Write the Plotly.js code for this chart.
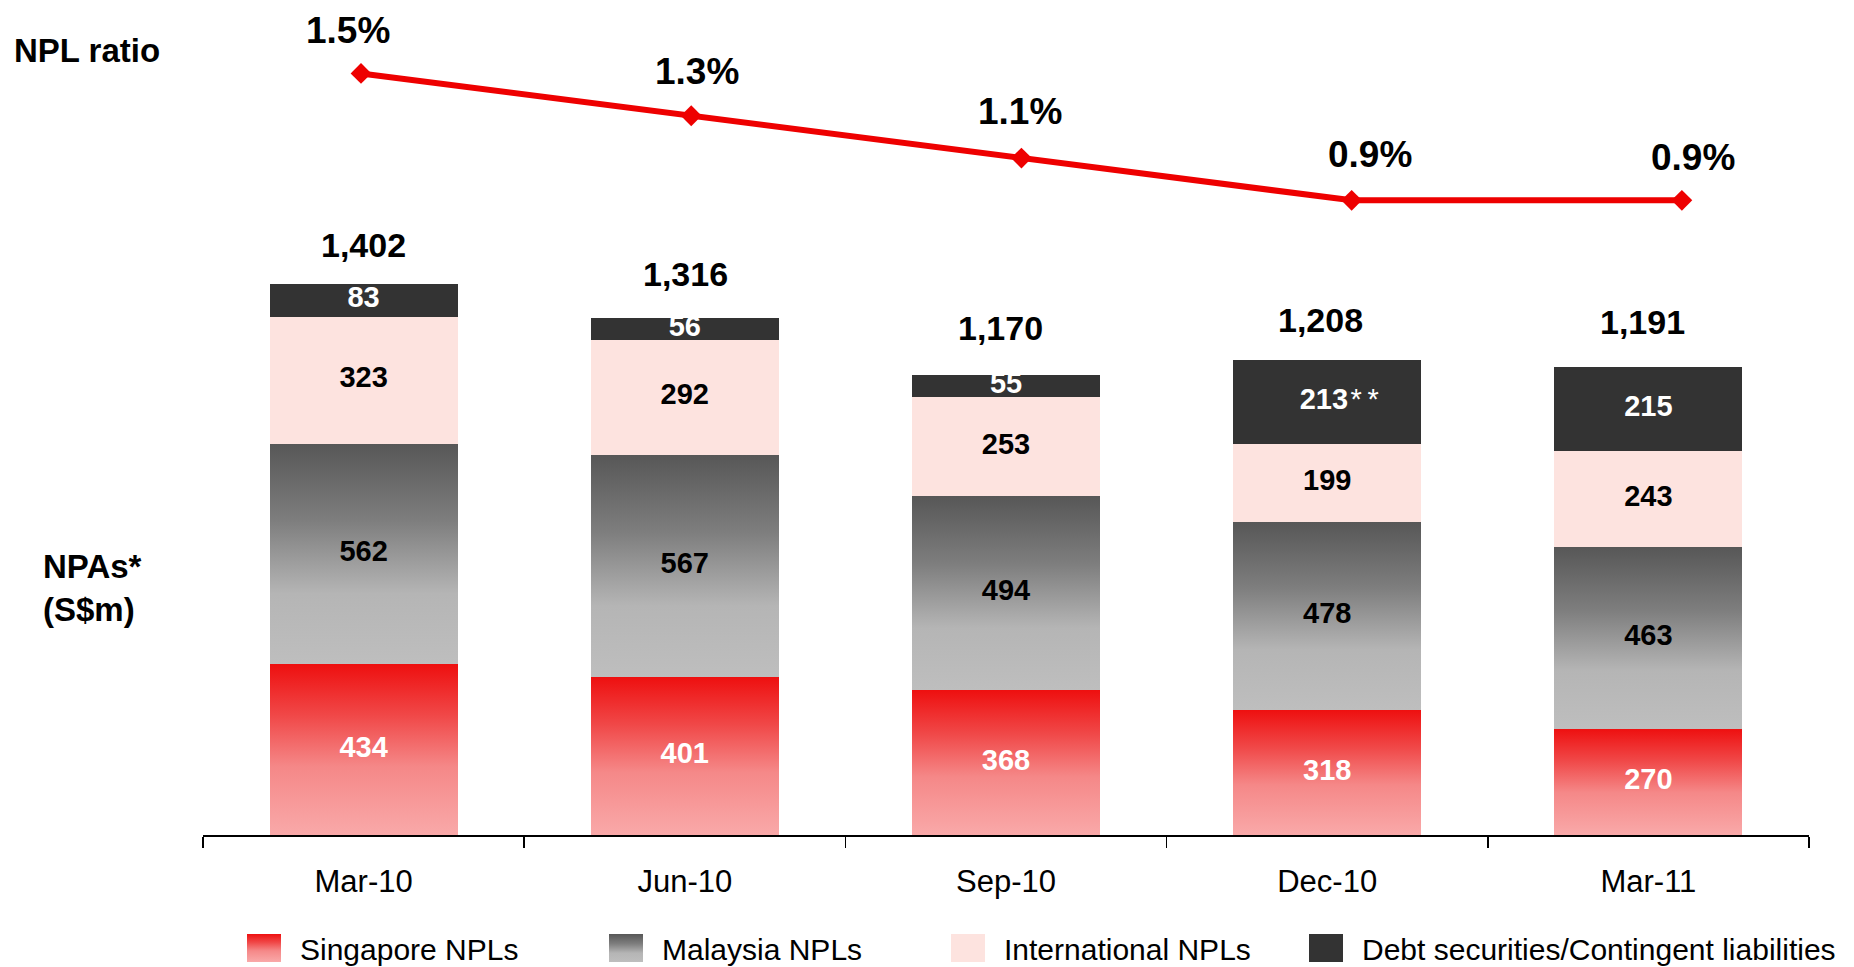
<!DOCTYPE html>
<html><head><meta charset="utf-8">
<script src="https://cdn.plot.ly/plotly-3.0.1.min.js"></script>
<style>html,body{margin:0;padding:0;background:#fff;}#chart{width:1854px;height:967px;}</style>
</head><body><div id="chart"></div>
<script>
const categories = ['Mar-10','Jun-10','Sep-10','Dec-10','Mar-11'];
const singaporeNPLs = [434,401,368,318,270];
const malaysiaNPLs = [562,567,494,478,463];
const internationalNPLs = [323,292,253,199,243];
const debtSecurities = [83,56,55,213,215];
const debtLabels = ['83','56','55','&nbsp;&nbsp;&nbsp;213<span style="font-weight:normal">&#8202;*&#8201;*</span>','215'];
const nplRatio = [1.5,1.3,1.1,0.9,0.9];
const seriesNames = ['Singapore NPLs','Malaysia NPLs','International NPLs','Debt securities/Contingent liabilities'];
const totals = categories.map((c,i)=>singaporeNPLs[i]+malaysiaNPLs[i]+internationalNPLs[i]+debtSecurities[i]);

// small pixel nudges for labels (style only)
const ratioLabelXShift = [-13, 6, -1, 18, 11];
const ratioLabelYShift = [-1, 1, 3, 2, -1];
const totalLabelXShift = [0, 1, -6, -7, -6];
const totalLabelYShift = [-1, 4, 7, 0, 5];

const BOLD = '"Liberation Sans", Arial, sans-serif';
const REG = '"Liberation Sans", Arial, sans-serif';
const RED_BASE = '#f05a5a', GRAY_BASE = '#8a8a8a';

function barTrace(name, y, color, textColor, legendId, text) {
  const f = {family: BOLD, size: 29, color: textColor, weight: 'bold'};
  return {type:'bar', name:name, x:categories, y:y, marker:{color:color, line:{width:0}},
    text: text || y.map(String), textposition:'inside', insidetextanchor:'middle', constraintext:'none',
    textfont:f, insidetextfont:f, hoverinfo:'skip', legend:legendId, cliponaxis:false};
}
const data = [
  barTrace(seriesNames[0], singaporeNPLs, RED_BASE, '#ffffff', 'legend'),
  barTrace(seriesNames[1], malaysiaNPLs, GRAY_BASE, '#000000', 'legend2'),
  barTrace(seriesNames[2], internationalNPLs, '#fde3df', '#000000', 'legend3'),
  barTrace(seriesNames[3], debtSecurities, '#333333', '#ffffff', 'legend4', debtLabels),
  {type:'scatter', x:categories, y:nplRatio, xaxis:'x2', yaxis:'y2', mode:'lines+markers', showlegend:false,
   line:{color:'#ee0000', width:6}, marker:{symbol:'diamond', size:16, color:'#ee0000'}, hoverinfo:'skip', cliponaxis:false}
];

const annotations = [];
categories.forEach((c,i)=>{
  annotations.push({x:c, y:totals[i], xref:'x', yref:'y', yanchor:'bottom', yshift:19+totalLabelYShift[i], xshift:totalLabelXShift[i], showarrow:false,
    text: totals[i].toLocaleString('en-US'), font:{family:BOLD, size:34, color:'#000', weight:'bold'}});
  annotations.push({x:c, y:nplRatio[i], xref:'x2', yref:'y2', yanchor:'bottom', yshift:21+ratioLabelYShift[i], xshift:ratioLabelXShift[i], showarrow:false,
    text: nplRatio[i].toFixed(1)+'%', font:{family:BOLD, size:37, color:'#000', weight:'bold'}});
});
annotations.push({xref:'paper', yref:'paper', x:-0.119, y:0.963, xanchor:'left', yanchor:'middle', showarrow:false,
  text:'NPL ratio', font:{family:BOLD, size:33, color:'#000', weight:'bold'}});
annotations.push({xref:'paper', yref:'paper', x:-0.101, y:0.303, xanchor:'left', yanchor:'middle', align:'left', showarrow:false,
  text:'NPAs*<br>(S$m)', font:{family:BOLD, size:33, color:'#000', weight:'bold'}});

function leg(px){ return {xref:'container', yref:'container', x:px/1854, y:19/967, xanchor:'left', yanchor:'middle',
  orientation:'h', itemwidth:44, bgcolor:'rgba(0,0,0,0)', borderwidth:0, font:{family:REG, size:30, color:'#000'}}; }

const layout = {
  width:1854, height:967, paper_bgcolor:'#fff', plot_bgcolor:'#fff',
  margin:{l:203, r:45, t:20, b:132},
  barmode:'stack', bargap:0.415,
  showlegend:true,
  legend:leg(246), legend2:leg(608), legend3:leg(950), legend4:leg(1308),
  xaxis:{type:'category', range:[-0.5,4.5], showline:true, linecolor:'#000', linewidth:2,
    ticks:'outside', tickson:'boundaries', ticklen:11, tickwidth:1.5, tickcolor:'#000',
    tickfont:{family:REG, size:31, color:'#000'}, showgrid:false, zeroline:false, ticklabelstandoff:18, fixedrange:true},
  xaxis2:{type:'category', range:[-0.4785,4.385], overlaying:'x', visible:false, fixedrange:true},
  yaxis:{range:[0,2074], visible:false, fixedrange:true},
  yaxis2:{range:[-2.1,1.7525], overlaying:'y', visible:false, fixedrange:true},
  annotations:annotations
};

const gd = document.getElementById('chart');
function decorate(){
  const ns = 'http://www.w3.org/2000/svg';
  const svg = gd.querySelector('.main-svg');
  const defs = svg.querySelector('defs');
  function grad(id, stops){
    if(document.getElementById(id)) return;
    const g = document.createElementNS(ns,'linearGradient');
    g.setAttribute('id',id); g.setAttribute('x1','0'); g.setAttribute('y1','0'); g.setAttribute('x2','0'); g.setAttribute('y2','1');
    stops.forEach(s=>{const st=document.createElementNS(ns,'stop'); st.setAttribute('offset',s[0]); st.setAttribute('stop-color',s[1]); g.appendChild(st);});
    defs.appendChild(g);
  }
  grad('gRed', [[0,'#ee1010'],[0.3,'#f04848'],[0.6,'#f58888'],[1,'#f9a9a9']]);
  grad('gGray', [[0,'#575757'],[0.35,'#7e7e7e'],[0.68,'#b5b5b5'],[1,'#bebebe']]);
  const byColor = {'rgb(240, 90, 90)':'url(#gRed)', 'rgb(138, 138, 138)':'url(#gGray)'};
  function paint(p){
    if(p.getAttribute('data-g')) { p.style.fill = p.getAttribute('data-g'); return; }
    const c = (p.style.fill || '').trim();
    const g = byColor[c];
    if(g){ p.setAttribute('data-g', g); p.style.fill = g; }
  }
  gd.querySelectorAll('.barlayer .point path').forEach(paint);
  gd.querySelectorAll('.barlayer text.bartext').forEach(t=>{
    if(t.getAttribute('data-s')) return;
    t.setAttribute('data-s','1');
    t.setAttribute('transform', (t.getAttribute('transform')||'') + ' translate(0,-3)');
  });
  gd.querySelectorAll('.legendpoints path').forEach(p=>{
    if(!p.getAttribute('d')) return;
    p.setAttribute('d','M8,14H-26V-14H8Z');
    paint(p);
  });
}
Plotly.newPlot(gd, data, layout, {staticPlot:true, displayModeBar:false}).then(()=>{
  decorate();
  setTimeout(decorate, 50);
  setTimeout(decorate, 300);
});
</script>
</body></html>
